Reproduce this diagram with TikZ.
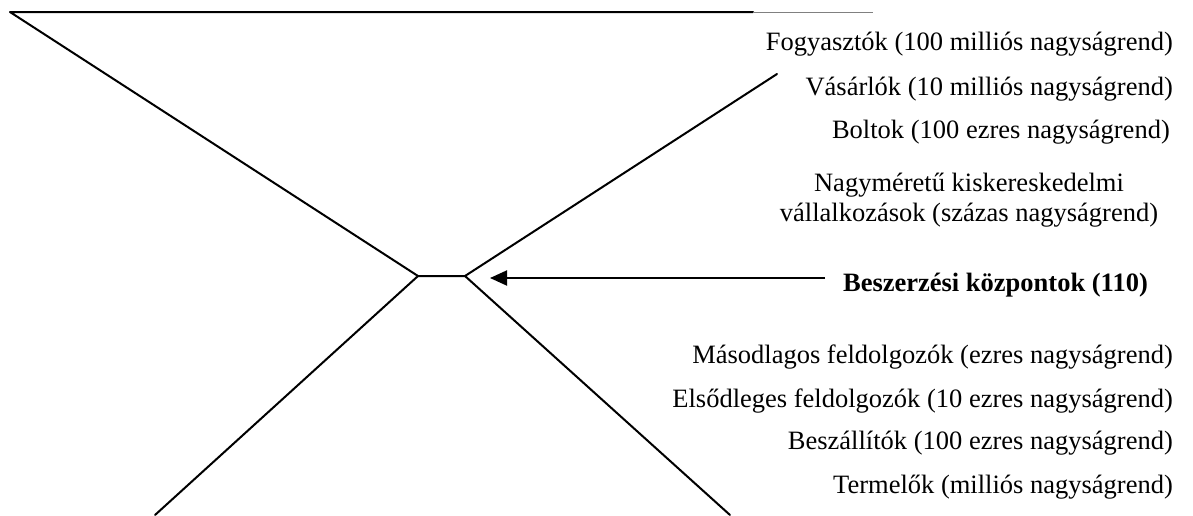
\documentclass[tikz,border=0pt]{standalone}
\usepackage{fontspec}
\setmainfont{Liberation Serif}
\usetikzlibrary{arrows.meta}
\begin{document}
\begin{tikzpicture}[x=1pt,y=-1pt,
  chain/.style={line width=2pt,line cap=round,line join=round},
  lbl/.style={inner sep=0pt,font=\fontsize{26.5}{30}\selectfont},
  pointer/.style={line width=2pt,-{Triangle[length=17pt,width=15pt]}}]
\useasboundingbox (0,0) rectangle (1193,515);
% corner points of the funnel shape
\coordinate (tl) at (10,12);
\coordinate (te) at (753,12);
\coordinate (tt) at (873,12);
\coordinate (jl) at (418,276);
\coordinate (jr) at (465,276);
\coordinate (ur) at (777,74);
\coordinate (bl) at (155,515);
\coordinate (br) at (730,515);
\draw[chain] (te) -- (tl) -- (jl) -- (jr) -- (ur);
\draw[line width=0.7pt,gray] (te) -- (tt);
\draw[chain] (jl) -- (bl);
\draw[chain] (jr) -- (br);
% level labels
\node[lbl,anchor=base east] (fogy) at (1173,50) {Fogyasztók (100 milliós nagyságrend)};
\node[lbl,anchor=base east] (vas) at (1173,95) {Vásárlók (10 milliós nagyságrend)};
\node[lbl,anchor=base east] (bolt) at (1170,138) {Boltok (100 ezres nagyságrend)};
\node[lbl,anchor=base,align=center] (nagy) at (969,221) {Nagyméretű kiskereskedelmi\\vállalkozások (százas nagyságrend)};
\node[lbl,anchor=base east,font=\fontsize{26.5}{30}\selectfont\bfseries] (besz) at (1148,291) {Beszerzési központok (110)};
\node[lbl,anchor=base east] (masod) at (1173,363) {Másodlagos feldolgozók (ezres nagyságrend)};
\node[lbl,anchor=base east] (elso) at (1173,407) {Elsődleges feldolgozók (10 ezres nagyságrend)};
\node[lbl,anchor=base east] (beszall) at (1173,449) {Beszállítók (100 ezres nagyságrend)};
\node[lbl,anchor=base east] (term) at (1173,493) {Termelők (milliós nagyságrend)};
% pointer to the narrow neck
\coordinate (as) at (825,278);
\coordinate (ae) at (490,278);
\draw[pointer] (as) -- (ae);
\end{tikzpicture}
\end{document}
